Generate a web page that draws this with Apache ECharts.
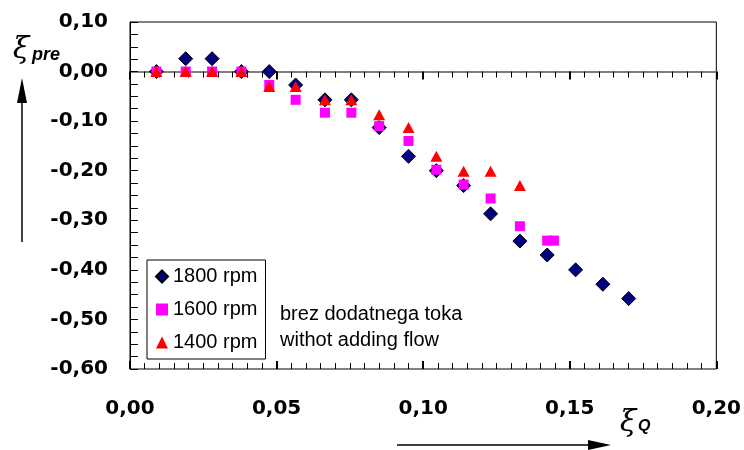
<!DOCTYPE html>
<html>
<head>
<meta charset="utf-8">
<script src="https://cdn.jsdelivr.net/npm/echarts@6/dist/echarts.min.js"></script>
<style>html,body{margin:0;padding:0;background:#fff}#c{width:744px;height:450px}</style>
</head>
<body>
<div id="c"></div>
<script>
var seriesNames = ['1800 rpm', '1600 rpm', '1400 rpm'];
var x1800 = [0.009, 0.019, 0.028, 0.038, 0.0475, 0.0565, 0.0665, 0.0755, 0.085, 0.095, 0.1045, 0.1138, 0.123, 0.133, 0.1423, 0.152, 0.1613, 0.1701];
var y1800 = [0, 0.026, 0.026, 0, 0, -0.027, -0.057, -0.057, -0.113, -0.171, -0.2, -0.23, -0.287, -0.342, -0.37, -0.4, -0.429, -0.458];
var x1600 = [0.009, 0.019, 0.028, 0.038, 0.0475, 0.0565, 0.0665, 0.0755, 0.085, 0.095, 0.1045, 0.1138, 0.123, 0.133, 0.1423, 0.1446];
var y1600 = [0, 0, 0, 0, -0.027, -0.057, -0.083, -0.083, -0.11, -0.14, -0.198, -0.228, -0.256, -0.312, -0.341, -0.341];
var x1400 = [0.009, 0.019, 0.028, 0.038, 0.0475, 0.0565, 0.0665, 0.0755, 0.085, 0.095, 0.1045, 0.1138, 0.123, 0.133];
var y1400 = [0, 0, 0, 0, -0.03, -0.03, -0.057, -0.057, -0.087, -0.113, -0.171, -0.201, -0.201, -0.23];
var annotationLines = ['brez dodatnega toka', 'withot adding flow'];

function pairs(xs, ys) { return xs.map(function (x, i) { return [x, ys[i]]; }); }
function comma(v) { return v.toFixed(2).replace('.', ','); }

var chart = echarts.init(document.getElementById('c'), null, { renderer: 'canvas' });
var labelFont = { fontFamily: 'DejaVu Sans', fontWeight: 'bold', fontSize: 20, color: '#000' };
var xBase = { type: 'value', min: 0, max: 0.2, interval: 0.05, splitLine: { show: false } };

chart.setOption({
  animation: false,
  backgroundColor: '#fff',
  grid: { left: 130, right: 27, top: 22, bottom: 81, show: true, borderColor: '#000', borderWidth: 1, backgroundColor: 'transparent' },
  xAxis: [
    Object.assign({}, xBase, {
      position: 'bottom',
      axisLine: { show: false, onZero: false },
      axisTick: { show: false },
      axisLabel: Object.assign({ margin: 30, formatter: comma }, labelFont)
    }),
    Object.assign({}, xBase, {
      position: 'top',
      axisLine: { show: true, onZero: true, lineStyle: { color: '#7f7f7f', width: 2 } },
      axisTick: { show: true, inside: true, length: 8, lineStyle: { color: '#000', width: 2 } },
      minorTick: { show: true, splitNumber: 10, length: 6, lineStyle: { color: '#000', width: 1 } },
      axisLabel: { show: false }
    }),
    Object.assign({}, xBase, {
      position: 'bottom',
      axisLine: { show: false, onZero: true },
      axisTick: { show: true, inside: true, length: 8, lineStyle: { color: '#000', width: 2 } },
      minorTick: { show: true, splitNumber: 10, length: 6, lineStyle: { color: '#000', width: 1 } },
      axisLabel: { show: false }
    })
  ],
  yAxis: {
    type: 'value', min: -0.6, max: 0.1, interval: 0.1,
    axisLine: { show: true, onZero: false, lineStyle: { color: '#000', width: 1 } },
    axisTick: { show: true, inside: true, length: 8, lineStyle: { color: '#000', width: 1 } },
    minorTick: { show: true, splitNumber: 4, length: 8, lineStyle: { color: '#000', width: 1 } },
    splitLine: { show: false },
    axisLabel: Object.assign({ margin: 22, formatter: comma }, labelFont)
  },
  legend: {
    orient: 'vertical', left: 147, top: 260,
    padding: [6, 8, 6, 8],
    borderColor: '#000', borderWidth: 1, backgroundColor: '#fff',
    itemWidth: 12, itemHeight: 12, itemGap: 12,
    textStyle: { fontFamily: 'Liberation Sans', fontSize: 20, color: '#000', lineHeight: 21 },
    data: seriesNames
  },
  series: [
    { name: seriesNames[0], type: 'scatter', symbol: 'diamond', symbolSize: 14, z: 2,
      itemStyle: { color: '#000080', borderColor: '#000', borderWidth: 1, opacity: 1 }, data: pairs(x1800, y1800) },
    { name: seriesNames[1], type: 'scatter', symbol: 'rect', symbolSize: 10, z: 3,
      itemStyle: { color: '#ff00ff', opacity: 1 }, data: pairs(x1600, y1600) },
    { name: seriesNames[2], type: 'scatter', symbol: 'triangle', symbolSize: [12, 11], z: 4,
      itemStyle: { color: '#ff0000', opacity: 1 }, data: pairs(x1400, y1400) }
  ],
  graphic: [
    { type: 'text', x: 21, y: 50, style: { text: 'ξ', font: 'italic 30px "DejaVu Serif"', fill: '#000', textAlign: 'center', textVerticalAlign: 'middle' } },
    { type: 'text', x: 32, y: 55, style: { text: 'pre', font: 'italic bold 18px "Liberation Sans"', fill: '#000', textAlign: 'left', textVerticalAlign: 'middle' } },
    { type: 'line', shape: { x1: 22, y1: 100, x2: 22, y2: 242 }, style: { stroke: '#000', lineWidth: 1.5 } },
    { type: 'polygon', shape: { points: [[22, 78], [17, 103], [27, 103]] }, style: { fill: '#000' } },
    { type: 'text', x: 628, y: 423, style: { text: 'ξ', font: 'italic 30px "DejaVu Serif"', fill: '#000', textAlign: 'center', textVerticalAlign: 'middle' } },
    { type: 'text', x: 638, y: 427, style: { text: 'Q', font: 'italic bold 16px "Liberation Sans"', fill: '#000', textAlign: 'left', textVerticalAlign: 'middle' } },
    { type: 'line', shape: { x1: 397, y1: 445, x2: 600, y2: 445 }, style: { stroke: '#000', lineWidth: 1.5 } },
    { type: 'polygon', shape: { points: [[611, 445], [588, 440], [588, 450]] }, style: { fill: '#000' } },
    { type: 'text', x: 280, y: 314, style: { text: annotationLines[0], font: '20px "Liberation Sans"', fill: '#000', textAlign: 'left', textVerticalAlign: 'middle' } },
    { type: 'text', x: 280, y: 340, style: { text: annotationLines[1], font: '20px "Liberation Sans"', fill: '#000', textAlign: 'left', textVerticalAlign: 'middle' } }
  ]
});
</script>
</body>
</html>
